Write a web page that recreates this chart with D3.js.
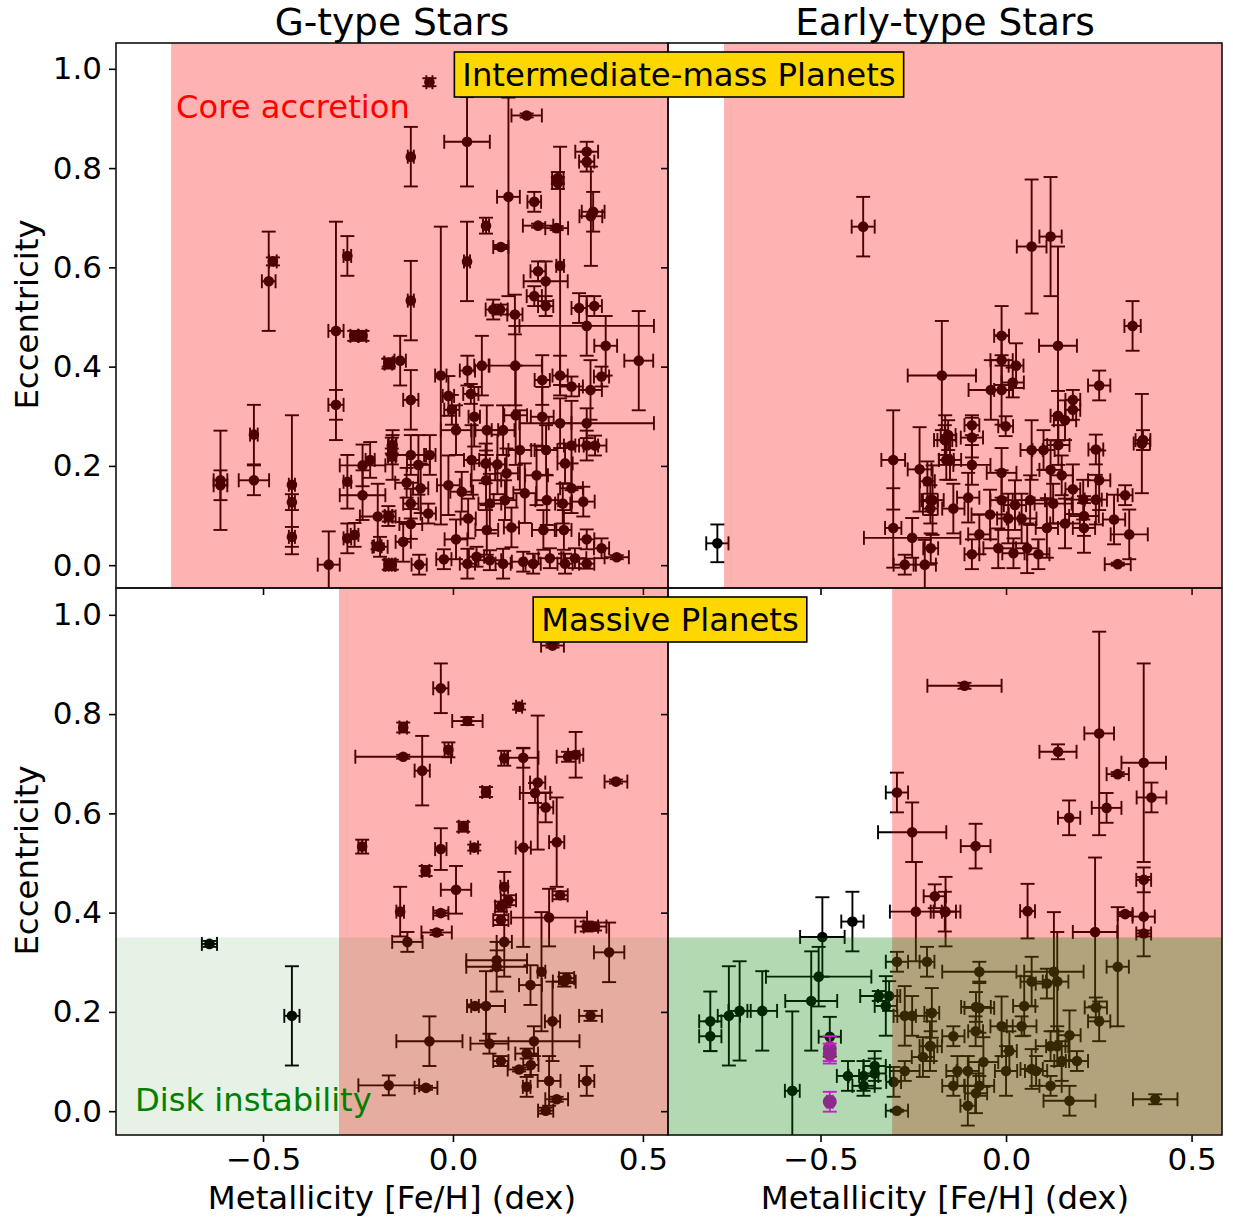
<!DOCTYPE html>
<html>
<head>
<meta charset="utf-8">
<script src="https://cdn.jsdelivr.net/npm/d3@7"></script>
<style>
  body { margin: 0; background: #fff; }
  text { font-family: "DejaVu Sans", sans-serif; }
</style>
</head>
<body>
<svg id="chart" width="1233" height="1222"></svg>
<script>
// G-type stars, intermediate-mass planets
var intGFeh = [-0.485,-0.474,-0.278,-0.308,-0.308,-0.26,-0.238,-0.169,-0.612,-0.612,
  -0.524,-0.524,-0.424,-0.424,-0.424,-0.327,-0.278,-0.238,-0.218,-0.238,
  -0.198,-0.169,-0.278,-0.259,-0.198,-0.169,-0.161,-0.161,-0.161,
  -0.062,0.194,0.037,-0.111,0.146,0.214,0.276,0.276,0.282,0.352,
  0.352,0.369,0.363,0.087,0.224,0.273,0.037,0.126,-0.111,0.224,
  0.244,0.214,0.244,0.332,0.372,0.106,0.124,0.163,
  0.489,0.352,0.402,-0.170,-0.139,-0.032,0.038,0.076,0.164,0.282,
  0.235,0.312,0.362,0.391,-0.111,-0.012,0.047,0.056,-0.003,0.089,
  0.008,0.132,0.165,0.235,0.282,0.352,-0.061,-0.111,-0.159,-0.159,
  -0.091,0.049,0.086,0.117,0.176,0.245,0.312,0.352,0.374,-0.122,
  -0.085,-0.012,0.023,0.087,0.141,0.22,0.295,0.312,-0.111,-0.170,
  -0.111,-0.065,0.04,0.097,0.137,0.189,0.247,0.289,0.343,-0.131,
  0.008,0.089,0.154,0.238,0.292,0.352,0.391,0.431,-0.166,-0.089,
  -0.024,0.038,0.062,0.097,0.132,0.185,0.211,0.255,0.295,0.321,
  0.352,-0.192];
var intGEcc = [0.572,0.612,0.623,0.472,0.323,0.462,0.462,0.408,0.171,0.161,
  0.263,0.171,0.162,0.127,0.057,0.001,0.168,0.201,0.212,0.141,
  0.098,0.098,0.054,0.061,0.038,0.001,0.001,0.241,0.219,
  0.973,0.906,0.853,0.823,0.742,0.732,0.780,0.770,0.603,0.833,
  0.813,0.712,0.703,0.684,0.684,0.679,0.612,0.641,0.533,0.592,
  0.572,0.542,0.522,0.518,0.522,0.515,0.515,0.505,
  0.412,0.482,0.442,0.406,0.412,0.382,0.392,0.402,0.402,0.382,
  0.373,0.36,0.353,0.38,0.333,0.341,0.345,0.299,0.313,0.272,
  0.272,0.272,0.302,0.299,0.286,0.286,0.222,0.222,0.242,0.222,
  0.202,0.212,0.205,0.203,0.232,0.232,0.241,0.241,0.241,0.166,
  0.155,0.161,0.148,0.171,0.185,0.181,0.205,0.155,0.124,0.099,
  0.083,0.104,0.094,0.124,0.131,0.145,0.131,0.124,0.128,0.047,
  0.052,0.071,0.076,0.071,0.071,0.052,0.034,0.016,0.001,0.001,
  0.012,0.003,0.017,0.01,0.003,0.007,0.003,0.014,0.003,0.014,
  0.003,0.037];
var intGFehErr = [0.018,0.01,0.01,0.02,0.02,0.01,0.01,0.012,0.018,0.018,
  0.01,0.04,0.008,0.008,0.008,0.029,0.01,0.06,0.012,0.06,
  0.047,0.01,0.01,0.01,0.01,0.008,0.008,0.01,0.01,
  0.008,0.04,0.06,0.008,0.03,0.018,0.015,0.015,0.01,0.03,
  0.02,0.03,0.03,0.008,0.04,0.03,0.008,0.02,0.008,0.02,
  0.058,0.02,0.02,0.02,0.02,0.02,0.02,0.02,
  0.038,0.177,0.03,0.01,0.015,0.015,0.02,0.02,0.07,0.02,
  0.02,0.03,0.03,0.02,0.02,0.015,0.02,0.015,0.02,0.03,
  0.04,0.03,0.03,0.03,0.03,0.177,0.015,0.04,0.01,0.01,
  0.03,0.02,0.03,0.02,0.03,0.03,0.02,0.03,0.03,0.03,
  0.02,0.03,0.03,0.04,0.03,0.03,0.02,0.03,0.02,0.01,
  0.03,0.02,0.02,0.03,0.03,0.03,0.03,0.02,0.03,0.02,
  0.03,0.03,0.02,0.03,0.02,0.02,0.02,0.032,0.015,0.02,
  0.02,0.02,0.02,0.03,0.02,0.03,0.02,0.03,0.02,0.03,
  0.02,0.02];
var intGEccErr = [0.10,0.008,0.04,0.22,0.03,0.01,0.01,0.008,0.10,0.03,
  0.06,0.03,0.14,0.016,0.02,0.067,0.054,0.042,0.036,0.05,
  0.066,0.01,0.03,0.024,0.006,0.01,0.01,0.016,0.016,
  0.008,0.004,0.09,0.06,0.20,0.02,0.012,0.012,0.24,0.02,
  0.02,0.04,0.10,0.016,0.004,0.004,0.08,0.004,0.08,0.02,
  0.04,0.02,0.02,0.03,0.02,0.02,0.01,0.04,
  0.10,0.06,0.06,0.01,0.05,0.30,0.03,0.06,0.08,0.04,
  0.05,0.02,0.06,0.02,0.06,0.04,0.02,0.06,0.03,0.05,
  0.05,0.05,0.10,0.06,0.05,0.03,0.04,0.04,0.02,0.05,
  0.06,0.07,0.04,0.06,0.08,0.05,0.09,0.03,0.02,0.03,
  0.05,0.06,0.04,0.06,0.05,0.06,0.04,0.05,0.03,0.02,
  0.03,0.02,0.04,0.06,0.04,0.06,0.05,0.04,0.03,0.04,
  0.04,0.05,0.04,0.04,0.04,0.02,0.02,0.004,0.01,0.02,
  0.02,0.03,0.02,0.02,0.03,0.02,0.02,0.02,0.02,0.02,
  0.01,0.02];

// Early-type stars, intermediate-mass planets
var intEFeh = [-0.778,-0.385,-0.173,-0.304,-0.304,-0.253,-0.233,-0.212,-0.204,-0.204,
  -0.203,-0.273,-0.219,-0.165,-0.161,0.069,0.12,0.14,0.341,0.251,
  -0.012,-0.012,0.027,0.018,-0.041,-0.012,0.18,0.18,0.14,0.159,
  -0.092,-0.001,-0.092,-0.156,-0.164,0.366,0.369,-0.092,-0.151,0.069,
  0.101,0.141,0.242,-0.012,0.12,0.15,0.251,-0.102,-0.198,-0.142,
  -0.043,-0.012,0.024,0.065,0.127,0.18,0.208,0.242,0.321,-0.072,
  0.006,0.042,0.11,0.159,0.21,0.21,0.291,0.332,-0.092,-0.021,
  0.02,0.057,0.087,0.301];
var intEEcc = [0.044,0.682,0.382,0.212,0.075,0.055,0.193,0.169,0.131,0.114,
  0.034,0.001,0.001,0.252,0.212,0.642,0.662,0.442,0.482,0.362,
  0.462,0.413,0.402,0.368,0.353,0.353,0.333,0.313,0.301,0.292,
  0.282,0.28,0.257,0.262,0.252,0.245,0.252,0.202,0.212,0.232,
  0.232,0.242,0.233,0.186,0.192,0.181,0.171,0.136,0.131,0.114,
  0.102,0.131,0.121,0.131,0.124,0.153,0.132,0.132,0.141,0.062,
  0.094,0.094,0.075,0.084,0.099,0.075,0.092,0.062,0.022,0.034,
  0.024,0.034,0.022,0.002];
var intEFehErr = [0.03,0.031,0.092,0.032,0.022,0.13,0.032,0.02,0.02,0.02,
  0.02,0.03,0.03,0.02,0.02,0.04,0.03,0.051,0.022,0.03,
  0.02,0.03,0.02,0.03,0.06,0.02,0.02,0.02,0.02,0.03,
  0.02,0.02,0.03,0.02,0.03,0.022,0.02,0.05,0.03,0.03,
  0.03,0.03,0.02,0.04,0.03,0.03,0.03,0.03,0.03,0.03,
  0.05,0.03,0.03,0.04,0.05,0.02,0.05,0.03,0.02,0.03,
  0.03,0.04,0.03,0.04,0.04,0.03,0.03,0.05,0.02,0.04,
  0.03,0.03,0.03,0.035];
var intEEccErr = [0.038,0.06,0.11,0.10,0.08,0.04,0.085,0.04,0.03,0.03,
  0.03,0.02,0.05,0.03,0.04,0.135,0.12,0.20,0.05,0.03,
  0.06,0.05,0.045,0.03,0.06,0.07,0.02,0.02,0.05,0.04,
  0.02,0.02,0.04,0.03,0.05,0.10,0.02,0.04,0.04,0.06,
  0.04,0.04,0.03,0.05,0.06,0.04,0.06,0.05,0.07,0.05,
  0.05,0.06,0.05,0.05,0.04,0.05,0.04,0.05,0.02,0.04,
  0.05,0.05,0.06,0.05,0.04,0.05,0.05,0.05,0.03,0.04,
  0.03,0.05,0.03,0.003];

// G-type stars, massive planets
var masGFeh = [-0.641,-0.424,-0.239,-0.169,0.262,-0.032,0.038,-0.131,-0.131,-0.081,
  -0.012,0.174,0.135,0.185,0.185,0.223,0.216,0.244,0.273,0.303,
  0.323,0.429,0.087,0.027,-0.032,0.056,-0.072,0.008,-0.139,-0.032,
  -0.043,-0.12,0.135,0.146,0.126,0.126,0.135,0.253,0.282,0.352,
  0.374,0.411,0.115,0.115,0.233,0.299,0.293,0.204,0.058,0.087,
  0.362,0.262,-0.062,0.096,0.213,0.126,0.194,0.205,0.174,0.253,
  0.352,0.194,-0.071,0.273,0.244];
var masGEcc = [0.337,0.192,0.533,0.052,0.938,0.852,0.786,0.773,0.714,0.686,
  0.728,0.815,0.711,0.712,0.531,0.662,0.641,0.612,0.542,0.714,
  0.718,0.664,0.643,0.573,0.528,0.531,0.484,0.446,0.402,0.399,
  0.36,0.341,0.452,0.425,0.412,0.385,0.341,0.39,0.435,0.372,
  0.372,0.32,0.304,0.291,0.281,0.268,0.261,0.254,0.212,0.212,
  0.192,0.181,0.141,0.136,0.141,0.101,0.116,0.093,0.084,0.061,
  0.061,0.049,0.047,0.024,0.001];
var masGFehErr = [0.02,0.02,0.01,0.08,0.03,0.02,0.04,0.01,0.126,0.02,
  0.01,0.008,0.008,0.04,0.02,0.02,0.04,0.02,0.02,0.03,
  0.02,0.03,0.01,0.012,0.015,0.01,0.01,0.04,0.01,0.02,
  0.04,0.04,0.01,0.02,0.015,0.02,0.02,0.1,0.02,0.03,
  0.03,0.04,0.08,0.08,0.01,0.02,0.03,0.03,0.01,0.05,
  0.03,0.02,0.087,0.05,0.12,0.02,0.03,0.02,0.03,0.03,
  0.02,0.01,0.03,0.03,0.02];
var masGEccErr = [0.006,0.10,0.014,0.02,0.004,0.05,0.008,0.01,0.004,0.07,
  0.015,0.006,0.015,0.02,0.20,0.135,0.02,0.03,0.09,0.01,
  0.046,0.004,0.01,0.01,0.042,0.006,0.01,0.048,0.05,0.005,
  0.005,0.02,0.03,0.01,0.01,0.01,0.07,0.058,0.008,0.01,
  0.008,0.06,0.02,0.05,0.12,0.01,0.01,0.04,0.003,0.07,
  0.01,0.08,0.05,0.02,0.03,0.01,0.01,0.02,0.004,0.05,
  0.03,0.02,0.004,0.005,0.006];

// Early-type stars, massive planets
var masEFeh = [-0.294,-0.253,-0.192,-0.243,-0.165,-0.414,-0.495,-0.505,-0.525,-0.576,
  -0.657,-0.718,-0.747,-0.797,-0.797,-0.475,-0.343,-0.315,-0.324,-0.426,
  -0.384,-0.384,-0.354,-0.354,-0.303,-0.294,-0.294,-0.213,-0.273,-0.253,
  -0.203,-0.224,-0.273,-0.112,0.251,0.371,0.14,0.301,0.392,0.271,
  0.17,-0.082,0.371,0.371,0.321,0.371,0.24,0.058,-0.163,0.301,
  0.129,-0.072,0.069,0.138,0.11,0.242,0.251,-0.081,-0.072,0.049,
  -0.012,0.042,-0.082,-0.142,0.171,0.138,0.12,0.009,-0.061,0.15,
  0.191,-0.205,-0.2,-0.103,-0.131,0.0,0.069,0.081,-0.142,-0.072,
  -0.081,0.12,-0.103,0.171,0.402];
var masEEcc = [0.642,0.562,0.433,0.402,0.402,0.382,0.351,0.271,0.222,0.041,
  0.202,0.202,0.192,0.181,0.151,0.15,0.232,0.232,0.212,0.071,
  0.071,0.051,0.091,0.076,0.059,0.001,0.301,0.301,0.192,0.192,
  0.131,0.109,0.081,0.857,0.761,0.702,0.724,0.679,0.632,0.611,
  0.591,0.534,0.466,0.392,0.397,0.358,0.361,0.403,0.402,0.291,
  0.281,0.281,0.261,0.261,0.257,0.209,0.181,0.21,0.208,0.212,
  0.171,0.171,0.161,0.151,0.153,0.131,0.131,0.121,0.099,0.101,
  0.101,0.131,0.198,0.081,0.081,0.081,0.085,0.081,0.051,0.051,
  0.036,0.051,0.011,0.021,0.024];
var masEFehErr = [0.03,0.092,0.03,0.07,0.03,0.03,0.06,0.142,0.07,0.02,
  0.04,0.03,0.03,0.03,0.03,0.03,0.05,0.03,0.03,0.03,
  0.04,0.03,0.03,0.03,0.02,0.03,0.03,0.02,0.03,0.04,
  0.03,0.03,0.04,0.1,0.04,0.06,0.05,0.03,0.04,0.04,
  0.03,0.04,0.02,0.03,0.02,0.02,0.06,0.02,0.04,0.03,
  0.08,0.1,0.03,0.03,0.03,0.03,0.03,0.04,0.04,0.03,
  0.03,0.04,0.02,0.03,0.03,0.03,0.04,0.02,0.04,0.02,
  0.03,0.02,0.02,0.03,0.03,0.03,0.03,0.03,0.03,0.04,
  0.03,0.03,0.02,0.07,0.06];
var masEEccErr = [0.04,0.06,0.024,0.10,0.04,0.06,0.08,0.06,0.10,0.16,
  0.08,0.10,0.10,0.06,0.03,0.04,0.01,0.03,0.06,0.03,
  0.03,0.02,0.03,0.03,0.03,0.002,0.02,0.03,0.06,0.04,
  0.03,0.04,0.02,0.006,0.205,0.20,0.015,0.004,0.03,0.03,
  0.035,0.045,0.025,0.08,0.004,0.006,0.15,0.055,0.07,0.12,
  0.12,0.02,0.05,0.10,0.03,0.02,0.04,0.03,0.05,0.06,
  0.06,0.02,0.03,0.02,0.05,0.04,0.03,0.04,0.05,0.04,
  0.02,0.05,0.05,0.03,0.03,0.05,0.04,0.03,0.02,0.02,
  0.04,0.02,0.04,0.03,0.01];

// highlighted systems (purple)
var hiFeh = [-0.475, -0.475, -0.475];
var hiEcc = [0.126, 0.116, 0.019];
var hiFehErr = [0.008, 0.008, 0.008];
var hiEccErr = [0.025, 0.02, 0.02];

// shaded regions
var coreCutInt = [-0.742, -0.76];   // G, early
var coreCutMas = [-0.3, -0.307];
var diskEccMax = 0.35;

var yTicks = [0, 0.2, 0.4, 0.6, 0.8, 1.0];
var xTicks = [-0.5, 0, 0.5];
var colTitles = ['G-type Stars', 'Early-type Stars'];
var rowTitles = ['Intermediate-mass Planets', 'Massive Planets'];

var svg = d3.select('#chart');

var xL = d3.scaleLinear().domain([-0.887, 0.566]).range([116, 668]);
var xR = d3.scaleLinear().domain([-0.911, 0.582]).range([668, 1222]);
var yT = d3.scaleLinear().domain([-0.046, 1.052]).range([588, 43]);
var yB = d3.scaleLinear().domain([-0.048, 1.054]).range([1135, 588]);

var panels = [
  {x: xL, y: yT, feh: intGFeh, ecc: intGEcc, fe: intGFehErr, ee: intGEccErr, cut: coreCutInt[0], green: 0, col: 0, row: 0},
  {x: xR, y: yT, feh: intEFeh, ecc: intEEcc, fe: intEFehErr, ee: intEEccErr, cut: coreCutInt[1], green: 0, col: 1, row: 0},
  {x: xL, y: yB, feh: masGFeh, ecc: masGEcc, fe: masGFehErr, ee: masGEccErr, cut: coreCutMas[0], green: 0.1, col: 0, row: 1},
  {x: xR, y: yB, feh: masEFeh, ecc: masEEcc, fe: masEFehErr, ee: masEEccErr, cut: coreCutMas[1], green: 0.3, col: 1, row: 1}
];

var cap = 7;

function drawErr(sel, pts, x, y, color) {
  var g = sel.selectAll(null).data(pts).enter().append('g')
    .attr('stroke', color).attr('stroke-width', 1.9).attr('fill', 'none');
  g.append('line')
    .attr('x1', function(d) { return x(d.x); }).attr('x2', function(d) { return x(d.x); })
    .attr('y1', function(d) { return y(d.y - d.ye); }).attr('y2', function(d) { return y(d.y + d.ye); });
  g.append('line')
    .attr('x1', function(d) { return x(d.x - d.xe); }).attr('x2', function(d) { return x(d.x + d.xe); })
    .attr('y1', function(d) { return y(d.y); }).attr('y2', function(d) { return y(d.y); });
  [-1, 1].forEach(function(s) {
    g.append('line')
      .attr('x1', function(d) { return x(d.x) - cap; }).attr('x2', function(d) { return x(d.x) + cap; })
      .attr('y1', function(d) { return y(d.y + s * d.ye); }).attr('y2', function(d) { return y(d.y + s * d.ye); });
    g.append('line')
      .attr('x1', function(d) { return x(d.x + s * d.xe); }).attr('x2', function(d) { return x(d.x + s * d.xe); })
      .attr('y1', function(d) { return y(d.y) - cap; }).attr('y2', function(d) { return y(d.y) + cap; });
  });
  return g;
}

panels.forEach(function(p, i) {
  var x0 = p.x.range()[0], x1 = p.x.range()[1];
  var y0 = p.y.range()[1], y1 = p.y.range()[0];
  var g = svg.append('g');

  svg.append('clipPath').attr('id', 'clip' + i).append('rect')
    .attr('x', x0).attr('y', y0).attr('width', x1 - x0).attr('height', y1 - y0);
  var body = g.append('g').attr('clip-path', 'url(#clip' + i + ')');

  var pts = p.feh.map(function(v, k) {
    return {x: v, xe: p.fe[k], y: p.ecc[k], ye: p.ee[k]};
  });
  drawErr(body, pts, p.x, p.y, '#000')
    .append('circle')
    .attr('cx', function(d) { return p.x(d.x); })
    .attr('cy', function(d) { return p.y(d.y); })
    .attr('r', 5.3).attr('fill', '#000').attr('stroke', 'none');

  // core accretion region
  body.append('rect')
    .attr('x', p.x(p.cut)).attr('y', y0)
    .attr('width', x1 - p.x(p.cut)).attr('height', y1 - y0)
    .attr('fill', 'red').attr('fill-opacity', 0.3);

  // disk instability region
  if (p.green) {
    body.append('rect')
      .attr('x', x0).attr('y', p.y(diskEccMax))
      .attr('width', x1 - x0).attr('height', y1 - p.y(diskEccMax))
      .attr('fill', 'green').attr('fill-opacity', p.green);
  }

  if (i === 3) {
    var hp = hiFeh.map(function(v, k) {
      return {x: v, xe: hiFehErr[k], y: hiEcc[k], ye: hiEccErr[k]};
    });
    drawErr(body, hp, p.x, p.y, '#c81ec8')
      .append('circle')
      .attr('cx', function(d) { return p.x(d.x); })
      .attr('cy', function(d) { return p.y(d.y); })
      .attr('r', 7).attr('fill', '#8c2a8c').attr('stroke', 'none');
  }

  // axes
  var ya = d3.axisLeft(p.y).tickValues(yTicks).tickSize(7).tickPadding(7)
    .tickFormat(p.col === 0 ? d3.format('.1f') : function() { return ''; });
  g.append('g').attr('transform', 'translate(' + x0 + ',0)').call(ya);
  var xa = d3.axisBottom(p.x).tickValues(xTicks).tickSize(7).tickPadding(6)
    .tickFormat(p.row === 1 ? d3.format('.1f') : function() { return ''; });
  g.append('g').attr('transform', 'translate(0,' + y1 + ')').call(xa);
  g.selectAll('.domain').remove();
  g.selectAll('.tick line').attr('stroke', '#000').attr('stroke-width', 1.6);
  g.selectAll('.tick text').attr('fill', '#000').style('font-size', '31px')
    .style('font-family', '"DejaVu Sans", sans-serif');

  g.append('rect').attr('x', x0).attr('y', y0).attr('width', x1 - x0).attr('height', y1 - y0)
    .attr('fill', 'none').attr('stroke', '#111').attr('stroke-width', 1.6);
});

// titles and labels
colTitles.forEach(function(t, c) {
  var x = c === 0 ? xL : xR;
  var cx = (x.range()[0] + x.range()[1]) / 2;
  svg.append('text').attr('x', cx).attr('y', 35).attr('text-anchor', 'middle')
    .style('font-size', '37.5px').text(t);
  svg.append('text').attr('x', cx).attr('y', 1209).attr('text-anchor', 'middle')
    .style('font-size', '32.4px').text('Metallicity [Fe/H] (dex)');
});
[yT, yB].forEach(function(y) {
  var cy = (y.range()[0] + y.range()[1]) / 2;
  svg.append('text').attr('transform', 'translate(38,' + (cy - 1) + ') rotate(-90)')
    .attr('text-anchor', 'middle').style('font-size', '32.4px').text('Eccentricity');
});

svg.append('text').attr('x', 176).attr('y', 118).attr('fill', 'red')
  .style('font-size', '32.2px').text('Core accretion');
svg.append('text').attr('x', 135).attr('y', 1111).attr('fill', 'green')
  .style('font-size', '32.2px').text('Disk instability');

// row labels in gold boxes
[[679, 74.5], [670, 619.5]].forEach(function(pos, r) {
  var bg = svg.append('g');
  var rect = bg.append('rect');
  var t = bg.append('text').attr('x', pos[0]).attr('y', pos[1] + 11.5)
    .attr('text-anchor', 'middle').style('font-size', '32.3px').text(rowTitles[r]);
  var w = t.node().getComputedTextLength();
  rect.attr('x', pos[0] - w / 2 - 8).attr('y', pos[1] - 22.5)
    .attr('width', w + 16).attr('height', 45)
    .attr('fill', '#ffd700').attr('stroke', '#000').attr('stroke-width', 1.6);
});
</script>
</body>
</html>
